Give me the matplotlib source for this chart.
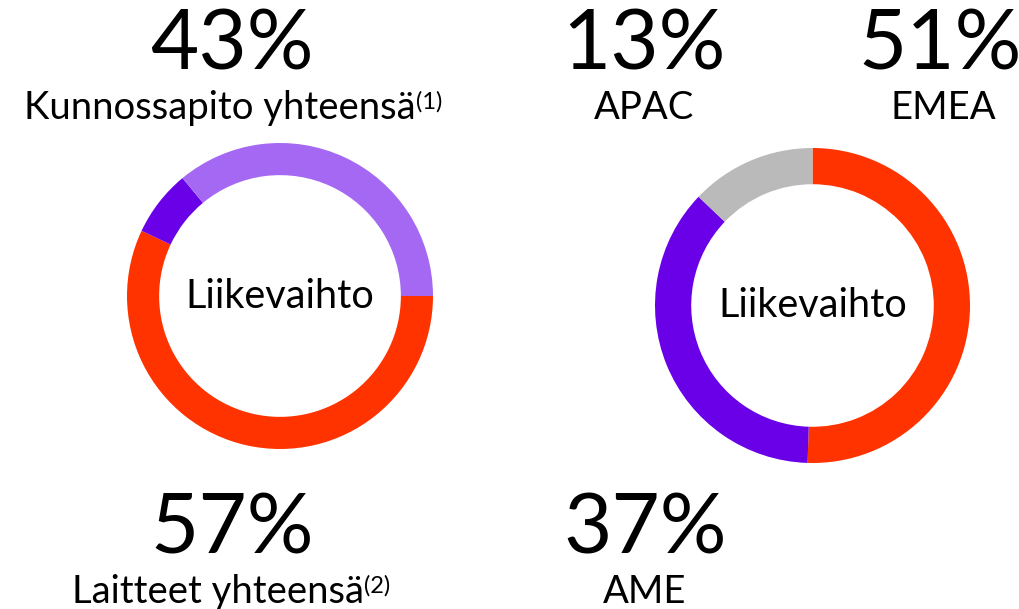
import matplotlib
matplotlib.use("Agg")
import matplotlib.pyplot as plt

plt.rcParams['font.family'] = ['Lato', 'DejaVu Sans']

# left donut: revenue split by business
left_labels = ["Laitteet yhteensä", "Kunnossapito (osa)", "Kunnossapito (muu)"]
left_values = [57, 7, 36]
left_colors = ["#FF3300", "#6A00E8", "#A468F2"]

# right donut: revenue split by area
right_labels = ["EMEA", "AME", "APAC"]
right_values = [51, 37, 13]
right_colors = ["#FF3300", "#6A00E8", "#BABABA"]

center_text = "Liikevaihto"

W, H = 1020, 609
fig = plt.figure(figsize=(W / 100, H / 100), dpi=100)

# canvas in pixel coords for the text
canvas = fig.add_axes([0, 0, 1, 1])
canvas.set_xlim(0, W)
canvas.set_ylim(H, 0)
canvas.axis("off")


def donut(cx, cy, r, values, colors, start, width):
    ax = fig.add_axes([(cx - r) / W, (H - cy - r) / H, 2 * r / W, 2 * r / H])
    ax.pie(values, colors=colors, startangle=start, counterclock=False,
           radius=1, wedgeprops=dict(width=width, linewidth=0))
    ax.set_xlim(-1, 1)
    ax.set_ylim(-1, 1)
    ax.set_aspect("equal")
    ax.text(0, 0, center_text, ha="center", va="center", fontsize=28.5)
    return ax


donut(280, 296, 153, left_values, left_colors, 0, 0.21)
donut(812.5, 305.5, 157.5, right_values, right_colors, 90, 0.23)


def big(x, y, s):
    canvas.text(x, y, s, ha="center", va="baseline", fontsize=60)


def label(x, y, s, sup=None):
    t = canvas.text(x, y, s, ha="center", va="baseline", fontsize=27.5)
    if sup:
        canvas.annotate(sup, xy=(1, 1), xycoords=t, xytext=(0, -1),
                        textcoords="offset points", ha="left", va="top",
                        fontsize=17)


big(232, 69, f"{100 - left_values[0]}%")
label(220, 119, "Kunnossapito yhteensä", "(1)")
big(232, 553, f"{left_values[0]}%")
label(218, 603, "Laitteet yhteensä", "(2)")

big(644, 69, f"{right_values[2]}%")
label(644, 119, right_labels[2])
big(940, 69, f"{right_values[0]}%")
label(943, 119, right_labels[0])
big(645, 553, f"{right_values[1]}%")
label(645, 603, right_labels[1])

fig.savefig("out.png", dpi=100)
